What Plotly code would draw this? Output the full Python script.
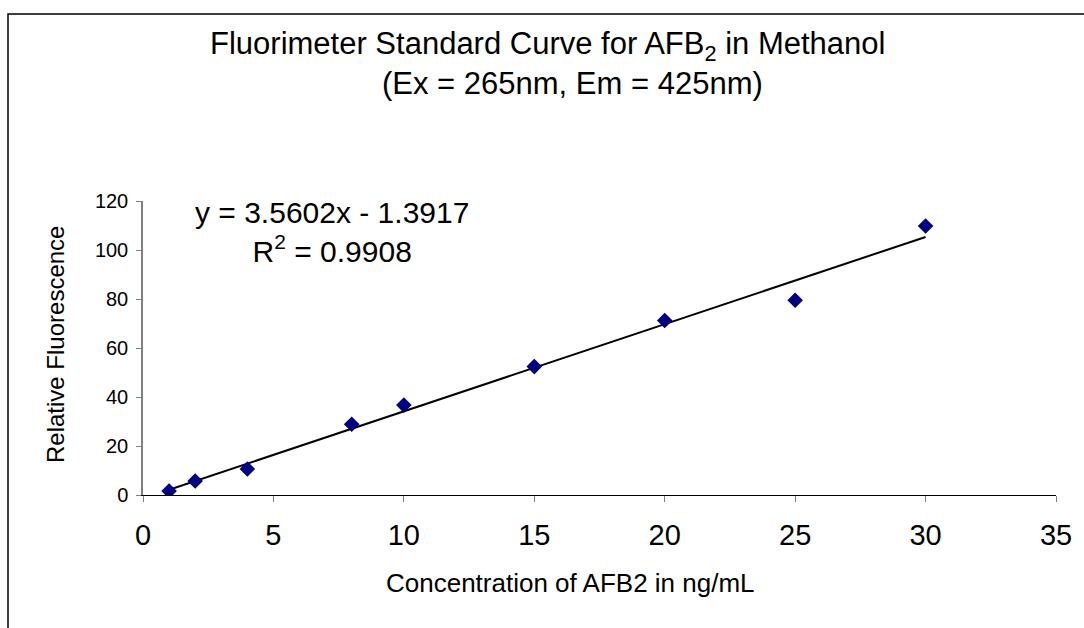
import numpy as np
import plotly.graph_objects as go

# Data
conc = [1, 2, 4, 8, 10, 15, 20, 25, 30]
fluor = [1.6, 5.7, 10.6, 28.9, 36.7, 52.4, 71.2, 79.5, 109.8]

x_ticks = [0, 5, 10, 15, 20, 25, 30, 35]
y_ticks = [0, 20, 40, 60, 80, 100, 120]

title_line1 = "Fluorimeter Standard Curve for AFB<sub>2</sub> in Methanol"
title_line2 = "(Ex = 265nm, Em = 425nm)"
eq_text = "y = 3.5602x - 1.3917"
r2_text = "R<sup>2</sup> = 0.9908"
x_title = "Concentration of AFB2 in ng/mL"
y_title = "Relative Fluorescence"

# linear trendline fitted to the data
slope, intercept = np.polyfit(conc, fluor, 1)
trend_x = [min(conc), max(conc)]
trend_y = [slope * v + intercept for v in trend_x]

W, H = 1084, 628
L, R, T, B = 143, 1056, 201, 495  # plot area pixels


def px(xp):
    return (xp - L) / (R - L)


def py(yp):
    return (B - yp) / (B - T)


FONT = "Liberation Sans, Arial, sans-serif"

fig = go.Figure()
fig.add_trace(go.Scatter(x=trend_x, y=trend_y, mode="lines",
                         line=dict(color="black", width=2), hoverinfo="skip"))
fig.add_trace(go.Scatter(x=conc, y=fluor, mode="markers",
                         marker=dict(symbol="diamond", size=12, color="#000080",
                                     line=dict(width=0))))

fig.update_layout(
    width=W, height=H,
    margin=dict(l=L, r=W - R, t=T, b=H - B),
    paper_bgcolor="white", plot_bgcolor="white",
    showlegend=False,
    font=dict(family=FONT, color="black"),
    xaxis=dict(range=[0, 35], tickvals=x_ticks, showgrid=False, zeroline=False,
               showline=True, linecolor="black", linewidth=1,
               ticks="outside", ticklen=6, tickcolor="#808080",
               ticklabelstandoff=8,
               tickfont=dict(size=29, family=FONT), fixedrange=True),
    yaxis=dict(range=[0, 120], tickvals=y_ticks, showgrid=False, zeroline=False,
               showline=True, linecolor="#808080", linewidth=1.5,
               ticks="outside", ticklen=5, tickcolor="#808080",
               ticklabelstandoff=4,
               tickfont=dict(size=20, family=FONT), fixedrange=True),
)

annos = [
    dict(text=title_line1, x=px(547), y=py(46), size=31),
    dict(text=title_line2, x=px(572), y=py(84), size=31),
    dict(text=eq_text + "<br>" + r2_text, x=px(332), y=py(232), size=30),
    dict(text=x_title, x=px(570), y=py(583), size=26),
]
for a in annos:
    fig.add_annotation(text=a["text"], x=a["x"], y=a["y"], xref="paper", yref="paper",
                       xanchor="center", yanchor="middle", align="center", showarrow=False,
                       font=dict(size=a["size"], family=FONT, color="black"))
fig.add_annotation(text=y_title, x=px(55), y=py(345), xref="paper", yref="paper",
                   xanchor="center", yanchor="middle", showarrow=False, textangle=-90,
                   font=dict(size=24, family=FONT, color="black"))

# outer chart border (extends past the image bottom/right)
fig.add_shape(type="rect", xref="paper", yref="paper",
              x0=px(8), x1=px(1095), y0=py(640), y1=py(14),
              line=dict(color="black", width=1.5), fillcolor="rgba(0,0,0,0)", layer="below")

fig.write_html("out.html")
